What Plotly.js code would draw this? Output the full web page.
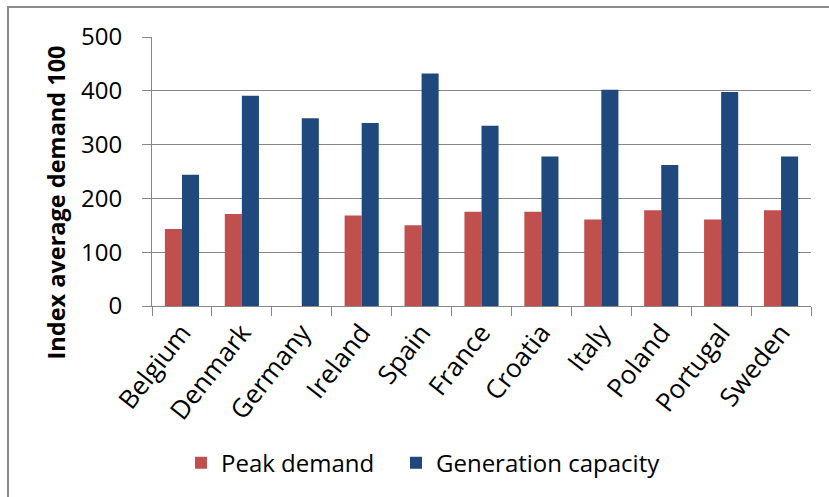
<!DOCTYPE html>
<html>
<head>
<meta charset="utf-8">
<script src="https://cdn.plot.ly/plotly-3.0.1.min.js"></script>
<style>
  html, body { margin: 0; padding: 0; background: #fff; }
  #wrap { position: relative; width: 829px; height: 497px; overflow: hidden; }
  #chart { position: absolute; left: 0; top: 0; width: 829px; height: 497px; }
  #frame { position: absolute; left: 7px; top: 6px; width: 900px; height: 600px;
           border: 2px solid #8c8c8c; pointer-events: none; }
</style>
</head>
<body>
<div id="wrap">
  <div id="chart"></div>
  <div id="frame"></div>
</div>
<script>
const countries = ["Belgium", "Denmark", "Germany", "Ireland", "Spain", "France",
                   "Croatia", "Italy", "Poland", "Portugal", "Sweden"];
const peakDemand = [143, 171, null, 168, 150, 175, 175, 161, 178, 161, 178];
const generationCapacity = [244, 391, 349, 340, 432, 335, 278, 402, 262, 398, 278];
const yTicks = [0, 100, 200, 300, 400, 500];
const yTitle = "Index average demand 100";

const font = "'Open Sans', 'Noto Sans', sans-serif";

const traces = [
  { type: "bar", name: "Peak demand", x: countries, y: peakDemand, legendwidth: 170,
    marker: { color: "#C0504D" }, hoverinfo: "none" },
  { type: "bar", name: "Generation capacity", x: countries, y: generationCapacity, legendwidth: 240,
    marker: { color: "#1F497D" }, hoverinfo: "none" }
];

const layout = {
  width: 829, height: 497,
  margin: { l: 152, r: 18, t: 37, b: 191 },
  paper_bgcolor: "rgba(0,0,0,0)",
  plot_bgcolor: "rgba(0,0,0,0)",
  barmode: "group", bargap: 0.43, bargroupgap: 0,
  font: { family: font, color: "#000", size: 24 },
  showlegend: true,
  legend: {
    orientation: "h", x: 0.044, xanchor: "left", y: -0.584, yanchor: "middle",
    font: { family: font, size: 24, color: "#000" }, traceorder: "normal"
  },
  xaxis: {
    type: "category", showline: true, linecolor: "#868686", linewidth: 1,
    ticks: "outside", ticklen: 9, tickcolor: "#868686", tickson: "boundaries",
    tickangle: -52, tickfont: { family: font, size: 26, color: "#000" },
    showgrid: false, zeroline: false, fixedrange: true
  },
  yaxis: {
    range: [0, 500], tickvals: yTicks, ticktext: yTicks.map(String),
    showline: true, linecolor: "#868686", linewidth: 1,
    ticks: "outside", ticklen: 9, tickcolor: "#868686", ticklabelstandoff: 15,
    showgrid: true, gridcolor: "#868686", gridwidth: 1, zeroline: false,
    tickfont: { family: font, size: 24, color: "#000" },
    fixedrange: true
  },
  annotations: [{
    text: yTitle, xref: "paper", yref: "paper", x: -0.145, y: 0.3866,
    xanchor: "center", yanchor: "middle", textangle: -90, showarrow: false,
    font: { family: font, size: 23.5, color: "#000", weight: "bold" }
  }]
};

Plotly.newPlot("chart", traces, layout, { displayModeBar: false, staticPlot: true });
</script>
</body>
</html>
